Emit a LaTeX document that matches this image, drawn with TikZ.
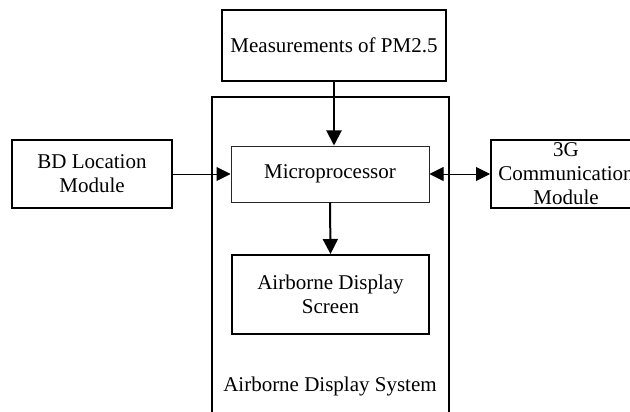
\documentclass[tikz,border=0pt]{standalone}
\usepackage{fontspec}
\setmainfont{Liberation Serif}
\usetikzlibrary{arrows.meta}
\tikzset{
  blk/.style={draw=black, line width=2pt, align=center, inner sep=0pt},
  thinblk/.style={draw=black!85, line width=1pt, align=center, inner sep=0pt},
  thickarr/.style={line width=2pt, -{Triangle[length=15pt,width=15pt]}},
  thinarr/.style={line width=1pt, -{Triangle[length=14pt,width=14pt]}},
  dblarr/.style={line width=1pt, {Triangle[length=14pt,width=14pt]}-{Triangle[length=14pt,width=14pt]}},
  txt/.style={align=center, inner sep=0pt}
}
\begin{document}
\begin{tikzpicture}[x=1pt,y=-1pt,font=\fontsize{21}{24}\selectfont]
\useasboundingbox (0,0) rectangle (630,412);
\clip (0,0) rectangle (630,412);
% outer system frame (bottom lies below the picture)
\draw[line width=2pt] (212,430) -- (212,97) -- (449,97) -- (449,430);
\node[txt] (syslabel) at (330,386) {Airborne Display System};
\node[blk, minimum width=224pt, minimum height=71pt] (meas) at (334,45.5) {Measurements of PM2.5};
\node[thinblk, minimum width=198pt, minimum height=56pt] (micro) at (330,174) {Microprocessor};
\node[blk, minimum width=197pt, minimum height=79pt] (screen) at (330.5,294.5) {Airborne Display\\Screen};
\node[blk, minimum width=160pt, minimum height=68pt] (bd) at (92,174) {BD Location\\Module};
\node[blk, minimum width=150pt, minimum height=68pt] (g3) at (566,174) {};
\node[txt] (g3txt) at (g3.center) {3G\\Communication\\Module};
\draw[thickarr] (meas.south) -- (meas.south |- micro.north);
\draw[thickarr] (micro.south) -- (screen.north);
\draw[thinarr] (bd.east) -- (micro.west);
\draw[dblarr] (micro.east) -- (g3.west);
\end{tikzpicture}
\end{document}
